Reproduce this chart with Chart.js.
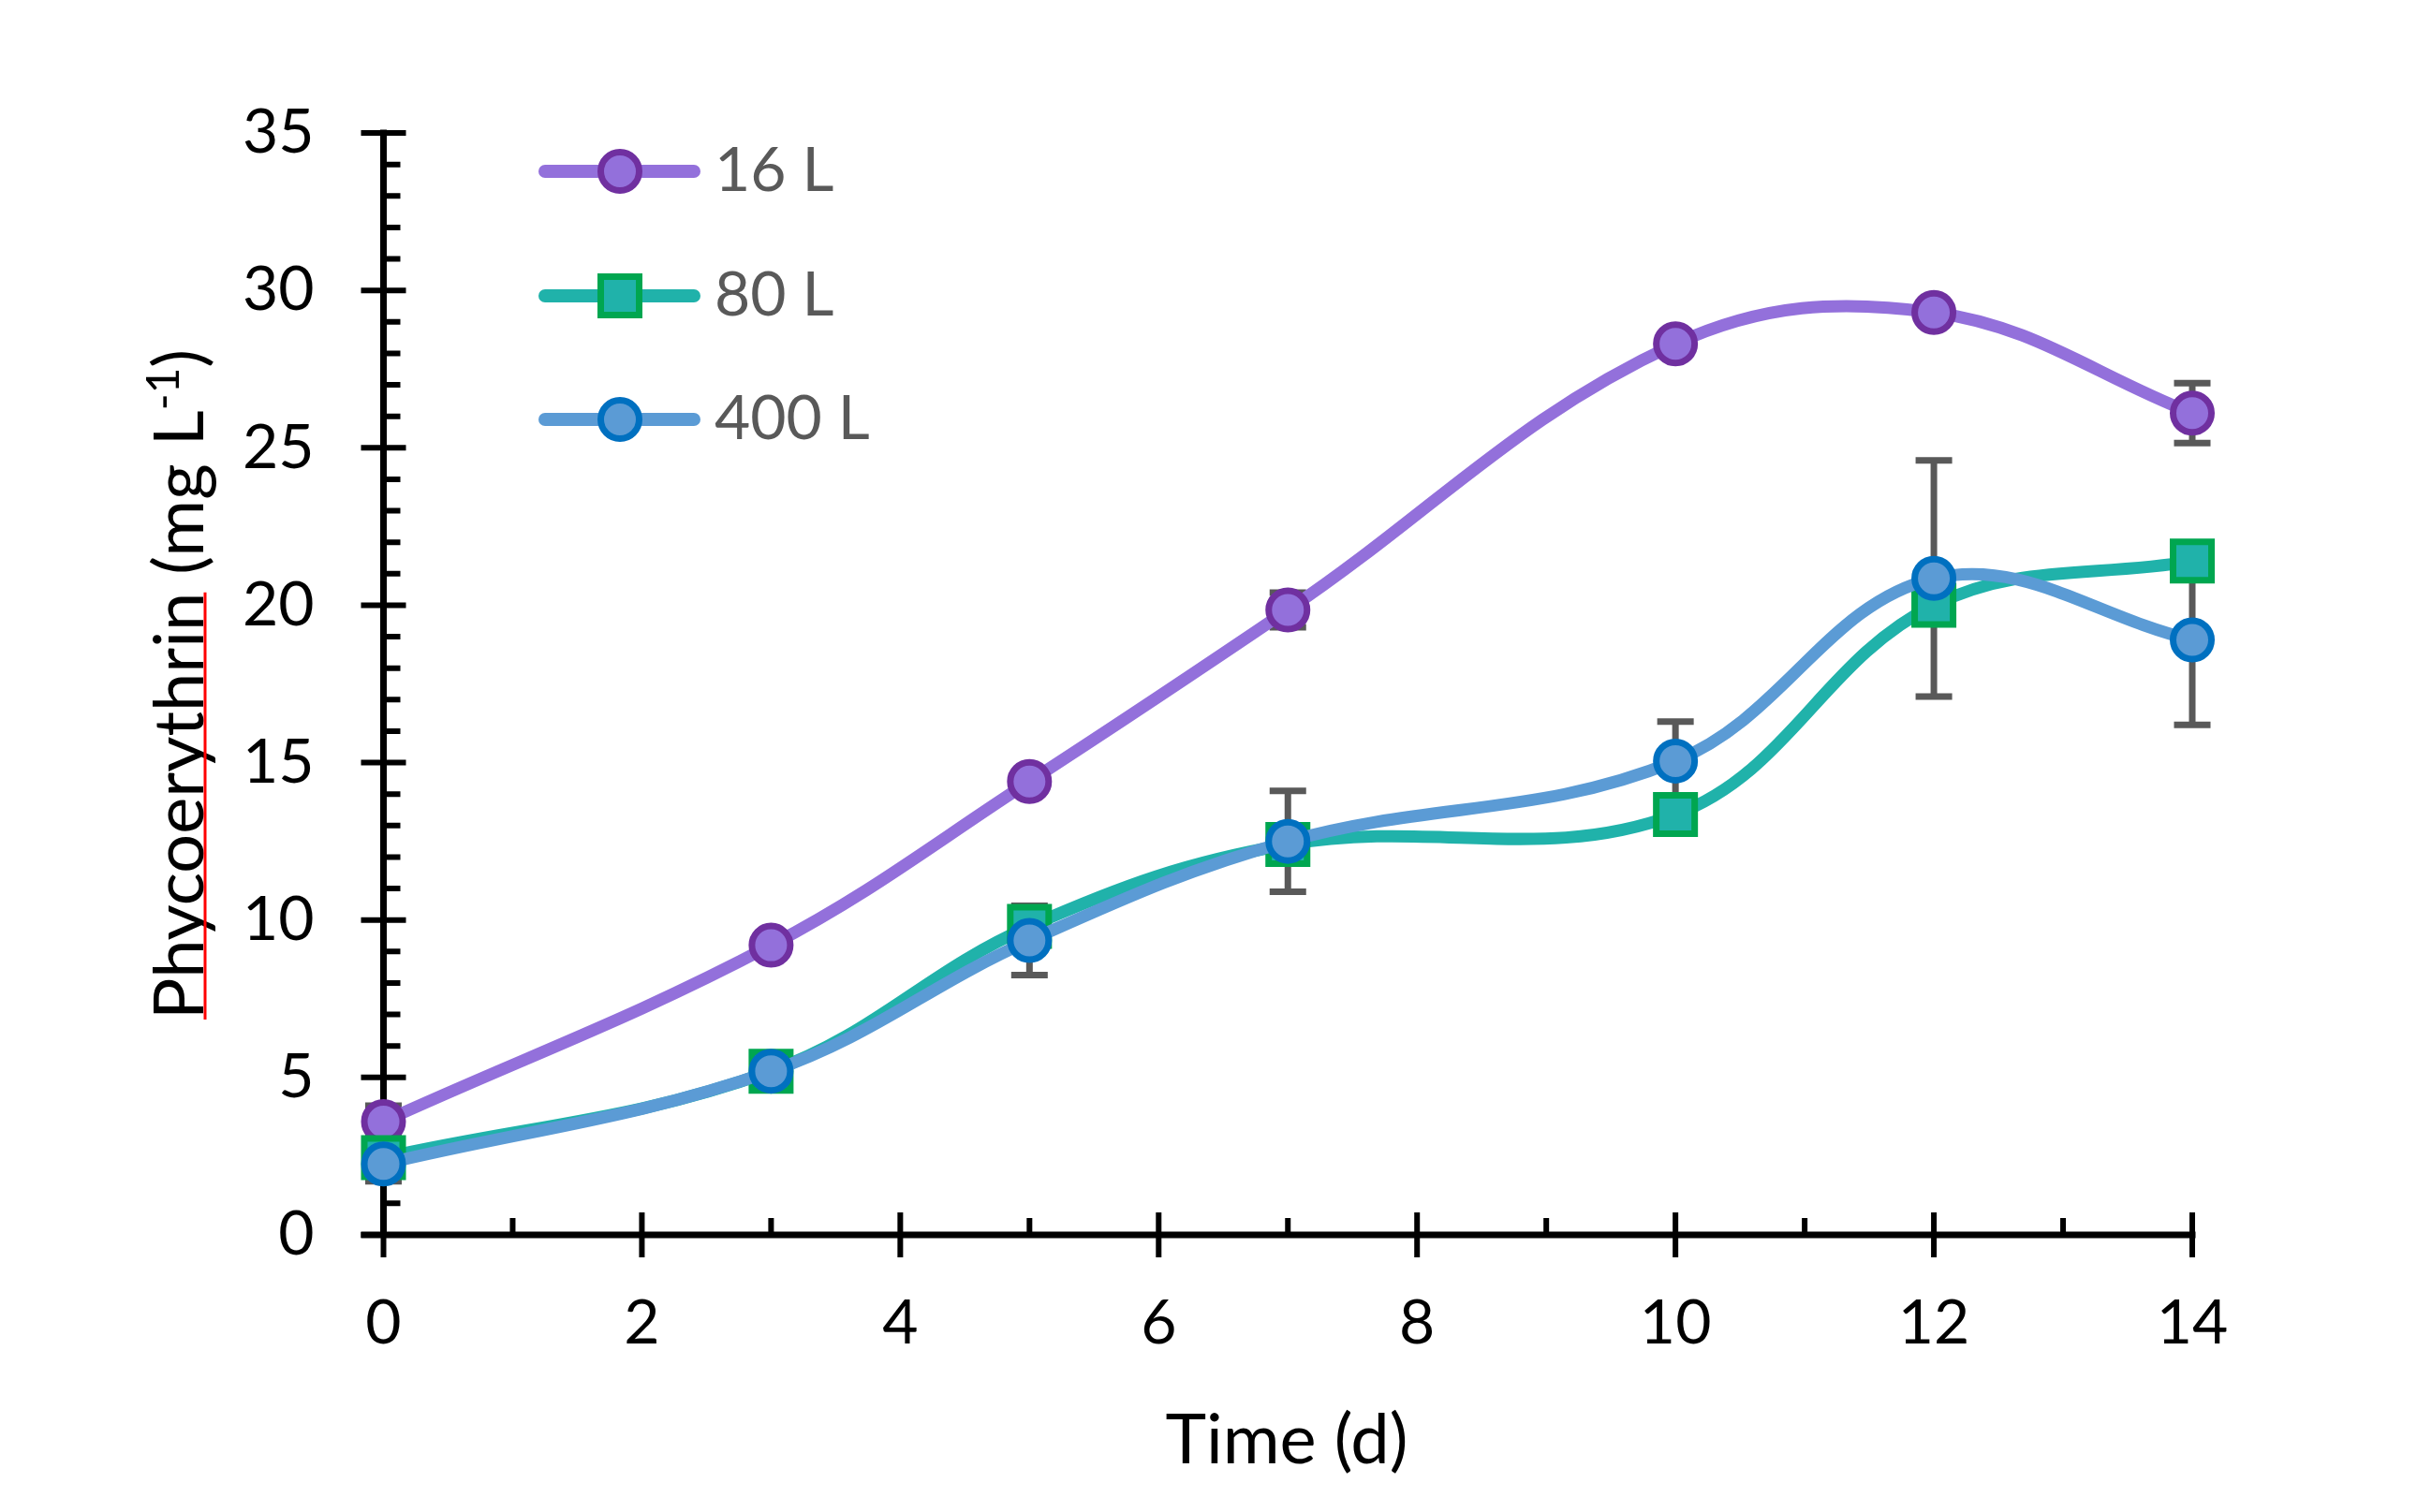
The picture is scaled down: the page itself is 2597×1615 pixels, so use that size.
<!DOCTYPE html>
<html lang="en">
<head>
    <meta charset="UTF-8">
    <title>Phycoerythrin</title>
    <script src="https://cdn.jsdelivr.net/npm/chart.js"></script>
    <style>
        html, body { margin: 0; padding: 0; background: #fff; }
        canvas { display: block; }
    </style>
</head>
<body>
    <canvas id="myChart" width="2597" height="1615"></canvas>

    <script>
        // data
        var days = [0, 3, 5, 7, 10, 12, 14];
        var pe16 = [3.6, 9.2, 14.4, 19.85, 28.3, 29.3, 26.1];
        var pe80 = [2.45, 5.2, 9.8, 12.4, 13.35, 20.0, 21.4];
        var pe400 = [2.25, 5.2, 9.35, 12.5, 15.05, 20.85, 18.9];
        var err16 = [0.5, 0, 0, 0.55, 0, 0, 0.95];
        var err80 = [0, 0, 0, 0, 0, 0, 0];
        var err400 = [0.55, 0, 1.1, 1.6, 1.25, 3.75, 2.7];
        var seriesNames = ['16 L', '80 L', '400 L'];
        var xTicks = [0, 2, 4, 6, 8, 10, 12, 14];
        var yTicks = [0, 5, 10, 15, 20, 25, 30, 35];

        var FONT = 'Lato, Calibri, Carlito, sans-serif';

        function points(ys) {
            return days.map(function (d, i) { return { x: d, y: ys[i] }; });
        }

        var styles = [
            { line: '#9370DB', fill: '#9370DB', edge: '#7030A0', shape: 'circle', r: 20.5 },
            { line: '#20B2AA', fill: '#20B2AA', edge: '#00A650', shape: 'rect', r: 29 },
            { line: '#5B9BD5', fill: '#5B9BD5', edge: '#0070C0', shape: 'circle', r: 20.5 }
        ];
        var values = [pe16, pe80, pe400];
        var errors = [err16, err80, err400];

        var datasets = values.map(function (v, k) {
            var s = styles[k];
            return {
                label: seriesNames[k],
                data: points(v),
                errs: errors[k],
                showLine: true,
                borderColor: s.line,
                borderWidth: 13,
                borderCapStyle: 'round',
                borderJoinStyle: 'round',
                tension: 0.38,
                pointStyle: s.shape,
                pointRadius: s.r,
                pointHoverRadius: s.r,
                pointBackgroundColor: s.fill,
                pointBorderColor: s.edge,
                pointBorderWidth: 7,
                clip: false,
                order: 3 - k
            };
        });

        // axes with crossing major ticks and inside minor ticks, error bars
        var axesAndErrors = {
            id: 'axesAndErrors',
            beforeDatasetsDraw: function (chart) {
                var ctx = chart.ctx;
                var xs = chart.scales.x, ys = chart.scales.y;
                var x0 = xs.getPixelForValue(0), y0 = ys.getPixelForValue(0);
                ctx.save();
                ctx.strokeStyle = '#000';
                ctx.lineWidth = 7;
                ctx.beginPath();
                ctx.moveTo(x0, ys.getPixelForValue(35) - 3.5);
                ctx.lineTo(x0, y0);
                ctx.moveTo(x0 - 24, y0);
                ctx.lineTo(xs.getPixelForValue(14) + 3.5, y0);
                ctx.stroke();

                ctx.lineWidth = 6;
                ctx.beginPath();
                for (var v = 0; v <= 35; v++) {
                    var py = ys.getPixelForValue(v);
                    if (v % 5 === 0) { ctx.moveTo(x0 - 24, py); ctx.lineTo(x0 + 24, py); }
                    else { ctx.moveTo(x0, py); ctx.lineTo(x0 + 18, py); }
                }
                for (var d = 0; d <= 14; d++) {
                    var px = xs.getPixelForValue(d);
                    if (d % 2 === 0) { ctx.moveTo(px, y0 - 24); ctx.lineTo(px, y0 + 24); }
                    else { ctx.moveTo(px, y0); ctx.lineTo(px, y0 - 18); }
                }
                ctx.stroke();

                ctx.strokeStyle = '#595959';
                ctx.lineWidth = 7;
                chart.data.datasets.forEach(function (ds) {
                    ds.data.forEach(function (p, i) {
                        var e = ds.errs[i];
                        if (!e) return;
                        var px = xs.getPixelForValue(p.x);
                        var top = ys.getPixelForValue(p.y + e);
                        var bot = ys.getPixelForValue(p.y - e);
                        ctx.beginPath();
                        ctx.moveTo(px, top); ctx.lineTo(px, bot);
                        ctx.moveTo(px - 19.5, top); ctx.lineTo(px + 19.5, top);
                        ctx.moveTo(px - 19.5, bot); ctx.lineTo(px + 19.5, bot);
                        ctx.stroke();
                    });
                });
                ctx.restore();
            },
            afterDraw: function (chart) {
                var ctx = chart.ctx;
                ctx.save();

                // legend inside the plot, top left
                var rows = [183, 316, 448];
                chart.data.datasets.forEach(function (ds, k) {
                    var s = styles[k], y = rows[k];
                    ctx.strokeStyle = s.line;
                    ctx.lineWidth = 14;
                    ctx.lineCap = 'round';
                    ctx.beginPath();
                    ctx.moveTo(582, y); ctx.lineTo(741, y);
                    ctx.stroke();
                    ctx.lineCap = 'butt';
                    ctx.fillStyle = s.fill;
                    ctx.strokeStyle = s.edge;
                    ctx.lineWidth = 7;
                    ctx.beginPath();
                    if (s.shape === 'rect') {
                        var h = s.r * Math.SQRT1_2;
                        ctx.rect(662 - h, y - h, 2 * h, 2 * h);
                    } else {
                        ctx.arc(662, y, s.r, 0, Math.PI * 2);
                    }
                    ctx.fill();
                    ctx.stroke();
                    ctx.fillStyle = '#595959';
                    ctx.font = '66px ' + FONT;
                    ctx.textAlign = 'left';
                    ctx.textBaseline = 'middle';
                    ctx.fillText(ds.label, 763, y);
                });

                // x title
                ctx.fillStyle = '#000';
                ctx.font = '74px ' + FONT;
                ctx.textAlign = 'center';
                ctx.textBaseline = 'alphabetic';
                ctx.fillText('Time (d)', 1374, 1563);

                // y title with superscript
                ctx.translate(217, 731);
                ctx.rotate(-Math.PI / 2);
                ctx.textAlign = 'left';
                var main = 'Phycoerythrin (mg L', sup = '-1', tail = ')';
                ctx.font = '74px ' + FONT;
                var w1 = ctx.measureText(main).width;
                var wu = ctx.measureText('Phycoerythrin').width;
                var w3 = ctx.measureText(tail).width;
                ctx.font = '48px ' + FONT;
                var w2 = ctx.measureText(sup).width;
                var sx = -(w1 + w2 + w3) / 2;
                ctx.font = '74px ' + FONT;
                ctx.fillText(main, sx, 0);
                ctx.font = '48px ' + FONT;
                ctx.fillText(sup, sx + w1, -26);
                ctx.font = '74px ' + FONT;
                ctx.fillText(tail, sx + w1 + w2, 0);
                ctx.strokeStyle = '#FF0000';
                ctx.lineWidth = 3;
                ctx.beginPath();
                ctx.moveTo(sx, 2); ctx.lineTo(sx + wu, 2);
                ctx.stroke();
                ctx.restore();
            }
        };

        var ctx = document.getElementById('myChart').getContext('2d');
        var myChart = new Chart(ctx, {
            type: 'scatter',
            data: { datasets: datasets },
            plugins: [axesAndErrors],
            options: {
                responsive: false,
                animation: false,
                devicePixelRatio: 1,
                layout: { padding: { left: 0, top: 142, right: 256, bottom: 0 } },
                plugins: {
                    legend: { display: false },
                    tooltip: { enabled: false }
                },
                scales: {
                    x: {
                        type: 'linear',
                        min: 0,
                        max: 14,
                        afterFit: function (s) { s.height = 1615 - 1319; },
                        afterBuildTicks: function (s) { s.ticks = xTicks.map(function (v) { return { value: v }; }); },
                        grid: { display: false, drawTicks: false },
                        border: { display: false },
                        ticks: { color: '#000', font: { family: FONT, size: 66 }, padding: 55, maxRotation: 0 }
                    },
                    y: {
                        type: 'linear',
                        min: 0,
                        max: 35,
                        afterFit: function (s) { s.width = 409.5; },
                        afterBuildTicks: function (s) { s.ticks = yTicks.map(function (v) { return { value: v }; }); },
                        grid: { display: false, drawTicks: false },
                        border: { display: false },
                        ticks: { color: '#000', font: { family: FONT, size: 66 }, padding: 74 }
                    }
                }
            }
        });
    </script>
</body>
</html>
